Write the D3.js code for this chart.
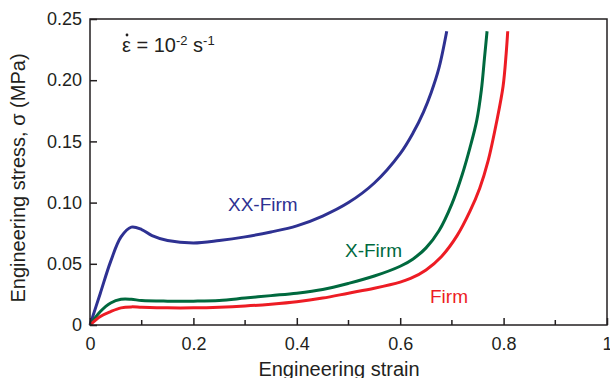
<!DOCTYPE html>
<html>
<head>
<meta charset="utf-8">
<script src="https://cdn.jsdelivr.net/npm/d3@7"></script>
<style>
  body { margin: 0; background: #fff; }
  svg { font-family: "Liberation Sans", Arial, sans-serif; }
  .tick text { font-size: 18px; fill: #231f20; }
  .label { font-size: 20px; fill: #231f20; }
</style>
</head>
<body>
<svg width="610" height="378"></svg>
<script>
// strain / stress
var xxStrain = [0, 0.02, 0.04, 0.06, 0.08, 0.10, 0.12, 0.15, 0.20, 0.25, 0.30, 0.35, 0.40, 0.45, 0.50, 0.55, 0.60, 0.625, 0.645, 0.66, 0.675, 0.69];
var xxStress = [0, 0.026, 0.052, 0.072, 0.080, 0.078, 0.073, 0.069, 0.067, 0.069, 0.072, 0.076, 0.081, 0.089, 0.100, 0.116, 0.140, 0.157, 0.174, 0.190, 0.210, 0.240];

var xStrain = [0, 0.02, 0.04, 0.06, 0.08, 0.10, 0.15, 0.20, 0.25, 0.30, 0.35, 0.40, 0.45, 0.50, 0.55, 0.60, 0.625, 0.65, 0.675, 0.70, 0.72, 0.735, 0.748, 0.757, 0.763, 0.768];
var xStress = [0, 0.011, 0.018, 0.021, 0.021, 0.020, 0.0195, 0.0195, 0.020, 0.022, 0.024, 0.026, 0.029, 0.034, 0.040, 0.048, 0.054, 0.063, 0.077, 0.099, 0.123, 0.145, 0.167, 0.192, 0.218, 0.240];

var fStrain = [0, 0.02, 0.04, 0.06, 0.08, 0.10, 0.15, 0.20, 0.25, 0.30, 0.35, 0.40, 0.45, 0.50, 0.55, 0.60, 0.62, 0.65, 0.68, 0.71, 0.735, 0.754, 0.770, 0.787, 0.799, 0.805, 0.808];
var fStress = [0, 0.007, 0.011, 0.014, 0.0148, 0.0145, 0.014, 0.014, 0.0145, 0.0155, 0.017, 0.019, 0.022, 0.026, 0.030, 0.035, 0.038, 0.045, 0.056, 0.073, 0.093, 0.112, 0.134, 0.167, 0.195, 0.222, 0.240];

var xTicks = [0, 0.2, 0.4, 0.6, 0.8, 1];
var xMinor = [0.1, 0.3, 0.5, 0.7, 0.9];
var yTicks = [0, 0.05, 0.10, 0.15, 0.20, 0.25];

var series = [
  { name: 'XX-Firm', strain: xxStrain, stress: xxStress, color: '#2e3192', lx: 228, ly: 211 },
  { name: 'X-Firm', strain: xStrain, stress: xStress, color: '#00693e', lx: 345, ly: 257 },
  { name: 'Firm', strain: fStrain, stress: fStress, color: '#ed1c24', lx: 430, ly: 303 }
];

var mLeft = 90, mRight = 607, mTop = 19, mBottom = 325;

var xScale = d3.scaleLinear().domain([0, 1]).range([mLeft, mRight]);
var yScale = d3.scaleLinear().domain([0, 0.25]).range([mBottom, mTop]);

var svg = d3.select('svg');

// curves
var line = d3.line()
    .x(function(d){ return xScale(d[0]); })
    .y(function(d){ return yScale(d[1]); })
    .curve(d3.curveCatmullRom.alpha(0.5));

series.forEach(function(s){
    var pts = s.strain.map(function(v, i){ return [v, s.stress[i]]; });
    svg.append('path')
        .attr('d', line(pts))
        .attr('fill', 'none')
        .attr('stroke', s.color)
        .attr('stroke-width', 3);
    svg.append('text')
        .attr('x', s.lx)
        .attr('y', s.ly)
        .attr('fill', s.color)
        .style('font-size', '19px')
        .text(s.name);
});

// frame
svg.append('rect')
    .attr('x', mLeft).attr('y', mTop)
    .attr('width', mRight - mLeft).attr('height', mBottom - mTop)
    .attr('fill', 'none')
    .attr('stroke', '#231f20')
    .attr('stroke-width', 1.5);

// axes, ticks pointing inward
svg.append('g').attr('class', 'x axis')
    .attr('transform', 'translate(0,' + mBottom + ')')
    .call(d3.axisBottom(xScale).tickValues(xTicks).tickSize(-7).tickPadding(12)
        .tickFormat(function(d){ return d === 0 ? '0' : (d === 1 ? '1' : d3.format('.1f')(d)); }));

svg.append('g')
    .attr('transform', 'translate(0,' + mBottom + ')')
    .selectAll('line').data(xMinor).enter().append('line')
    .attr('x1', function(d){ return xScale(d); })
    .attr('x2', function(d){ return xScale(d); })
    .attr('y1', 0).attr('y2', -5)
    .attr('stroke', '#231f20').attr('stroke-width', 1.5);

svg.append('g').attr('class', 'y axis')
    .attr('transform', 'translate(' + mLeft + ',0)')
    .call(d3.axisLeft(yScale).tickValues(yTicks).tickSize(-7).tickPadding(8)
        .tickFormat(function(d){ return d === 0 ? '0' : d3.format('.2f')(d); }));

svg.selectAll('.axis .domain').remove();
svg.selectAll('.axis .tick line').attr('stroke', '#231f20').attr('stroke-width', 1.5);

// labels
svg.append('text')
    .attr('class', 'label')
    .attr('text-anchor', 'middle')
    .attr('transform', 'translate(339,376)')
    .text('Engineering strain');

svg.append('text')
    .attr('class', 'label')
    .attr('text-anchor', 'middle')
    .attr('transform', 'translate(25,178) rotate(-90)')
    .text('Engineering stress, σ (MPa)');

// strain-rate note: epsilon with a dot above
var ann = svg.append('text')
    .attr('class', 'label')
    .style('font-size', '20px')
    .attr('x', 122).attr('y', 52);
ann.append('tspan').text('ε = 10');
ann.append('tspan').attr('dy', -7).style('font-size', '13px').text('-2');
ann.append('tspan').attr('dy', 7).text(' s');
ann.append('tspan').attr('dy', -7).style('font-size', '13px').text('-1');

svg.append('circle')
    .attr('cx', 127).attr('cy', 35).attr('r', 1.4)
    .attr('fill', '#231f20');
</script>
</body>
</html>
